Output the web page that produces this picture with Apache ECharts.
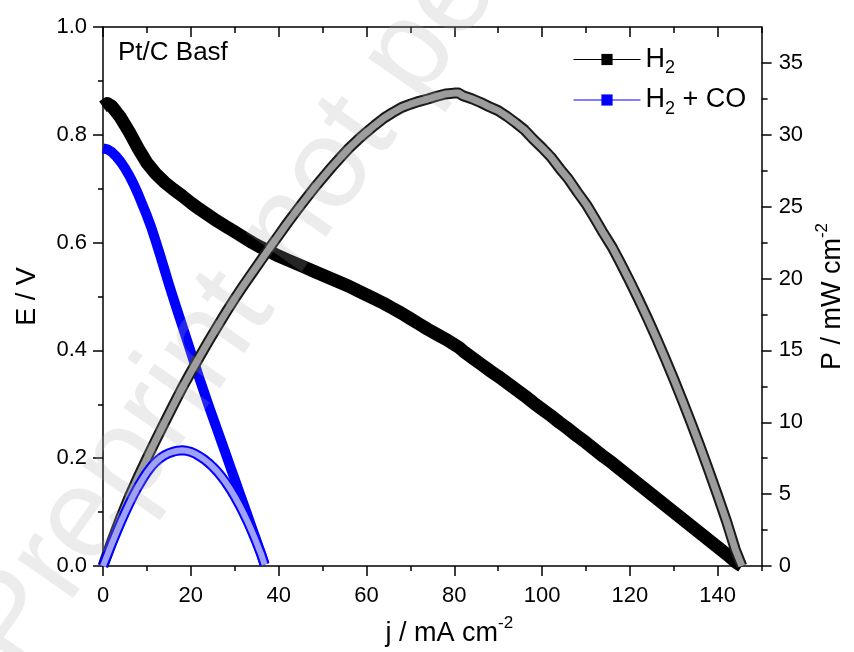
<!DOCTYPE html>
<html><head><meta charset="utf-8">
<script src="https://cdn.jsdelivr.net/npm/echarts@6/dist/echarts.min.js"></script>
<style>html,body{margin:0;padding:0;background:#fff}#c{width:854px;height:652px}</style>
</head><body><div id="c"></div><script>
const FONT = 'Liberation Sans, Arial, sans-serif';
const xMajorTicks = [0, 20, 40, 60, 80, 100, 120, 140];
const xMinorTicks = [10, 30, 50, 70, 90, 110, 130, 150];
const yRightMajor = [0, 5, 10, 15, 20, 25, 30, 35];
const yRightMinor = [2.5, 7.5, 12.5, 17.5, 22.5, 27.5, 32.5];

const j_H2 = [0,1,2,4,6,8,10,12,14,16,18,20,22,24,26,28,30,32,34,36,38,40,42,44,46,48,50,52,54,56,58,60,62,64,66,68,70,72,74,76,78,80,81,82,84,86,88,90,92,94,96,98,100,102,104,106,108,110,112,114,116,118,120,122,124,126,128,130,132,134,136,138,140,142,144,145.5];
const E_H2 = [0.852,0.858,0.853,0.832,0.805,0.775,0.748,0.728,0.712,0.699,0.687,0.674,0.662,0.651,0.640,0.630,0.620,0.610,0.600,0.591,0.583,0.575,0.568,0.561,0.554,0.547,0.540,0.533,0.526,0.519,0.511,0.503,0.495,0.487,0.478,0.469,0.459,0.449,0.439,0.430,0.421,0.411,0.406,0.399,0.387,0.375,0.363,0.352,0.340,0.328,0.316,0.303,0.291,0.279,0.266,0.254,0.241,0.229,0.216,0.203,0.191,0.178,0.165,0.152,0.139,0.126,0.113,0.100,0.087,0.074,0.061,0.048,0.035,0.022,0.008,0.0];
const P_H2 = [0,0.86,1.71,3.33,4.83,6.2,7.48,8.74,9.97,11.18,12.37,13.48,14.56,15.62,16.64,17.64,18.6,19.52,20.4,21.28,22.15,23.0,23.86,24.68,25.48,26.26,27.0,27.72,28.4,29.06,29.64,30.18,30.69,31.17,31.55,31.9,32.13,32.33,32.49,32.68,32.84,32.9,32.9,32.72,32.51,32.25,31.95,31.68,31.28,30.83,30.34,29.69,29.1,28.46,27.66,26.92,26.03,25.19,24.19,23.14,22.16,21.0,19.8,18.54,17.24,15.88,14.46,13.0,11.48,9.92,8.3,6.62,4.9,3.12,1.15,0.0];

const j_CO = [0,1,2,3,4,5,6,7,8,9,10,11,12,13,14,15,16,17,18,19,20,21,22,23,24,25,26,27,28,29,30,31,32,33,34,35,36,36.8];
const E_CO = [0.775,0.773,0.768,0.76,0.75,0.738,0.724,0.708,0.69,0.67,0.65,0.628,0.603,0.577,0.55,0.523,0.497,0.472,0.447,0.422,0.397,0.372,0.347,0.323,0.299,0.276,0.253,0.23,0.207,0.184,0.161,0.138,0.115,0.092,0.069,0.046,0.023,0.003];
const P_CO = [0,0.77,1.54,2.28,3.0,3.69,4.34,4.96,5.52,6.03,6.5,6.91,7.24,7.5,7.7,7.85,7.95,8.02,8.05,8.02,7.94,7.81,7.63,7.43,7.18,6.9,6.58,6.21,5.8,5.34,4.83,4.28,3.68,3.04,2.35,1.61,0.83,0.1];

const zip = (a, b) => a.map((v, i) => [v, b[i]]);
const AX = { color: '#000', width: 1.5 };

const chart = echarts.init(document.getElementById('c'), null, { renderer: 'canvas' });
const nameRich = {
  n: { fontSize: 27, fontFamily: FONT, color: '#000', lineHeight: 32, verticalAlign: 'bottom' },
  s: { fontSize: 17, fontFamily: FONT, color: '#000', lineHeight: 17, verticalAlign: 'top' }
};
chart.setOption({
  animation: false,
  backgroundColor: '#fff',
  textStyle: { fontFamily: FONT },
  title: { text: 'Pt/C Basf', left: 118, top: 40, padding: 0,
    textStyle: { fontSize: 26, fontWeight: 'normal', color: '#000', fontFamily: FONT } },
  legend: {
    orient: 'vertical', left: 573, top: 46, padding: 0, itemWidth: 67, itemHeight: 14, itemGap: 9,
    data: ['H2', 'H2 + CO'],
    formatter: n => n === 'H2' ? '{a|H}{b|2}' : '{a|H}{b|2}{a| + CO}',
    lineStyle: { width: 1 },
    textStyle: { rich: {
      a: { fontSize: 27, fontFamily: FONT, color: '#000', lineHeight: 36, verticalAlign: 'middle' },
      b: { fontSize: 18, fontFamily: FONT, color: '#000', lineHeight: 16, verticalAlign: 'bottom' }
    } }
  },
  grid: { left: 103, right: 82, top: 27, bottom: 86, containLabel: false },
  xAxis: [
    { type: 'value', position: 'bottom', min: 0, max: 150,
      axisLine: { show: true, onZero: false, lineStyle: AX },
      axisTick: { show: true, inside: false, length: 10, customValues: xMajorTicks, lineStyle: AX },
      axisLabel: { customValues: xMajorTicks, fontSize: 22, color: '#000', fontFamily: FONT, margin: 19 },
      splitLine: { show: false },
      name: '{n|j / mA cm}{s|-2}', nameLocation: 'middle', nameGap: 49,
      nameTextStyle: { rich: nameRich, padding: [0, 0, 0, 34] } },
    { type: 'value', position: 'bottom', min: 0, max: 150,
      axisLine: { show: false, onZero: false },
      axisTick: { show: true, inside: false, length: 5, customValues: xMinorTicks, lineStyle: AX },
      axisLabel: { show: false }, splitLine: { show: false } },
    { type: 'value', position: 'top', min: 0, max: 150,
      axisLine: { show: true, onZero: false, lineStyle: AX },
      axisTick: { show: true, inside: true, length: 10, customValues: xMajorTicks, lineStyle: AX },
      axisLabel: { show: false }, splitLine: { show: false } },
    { type: 'value', position: 'top', min: 0, max: 150,
      axisLine: { show: false, onZero: false },
      axisTick: { show: true, inside: true, length: 6, customValues: xMinorTicks, lineStyle: AX },
      axisLabel: { show: false }, splitLine: { show: false } }
  ],
  yAxis: [
    { type: 'value', position: 'left', min: 0, max: 1, interval: 0.2,
      axisLine: { show: true, onZero: false, lineStyle: AX },
      axisTick: { show: true, inside: false, length: 10, lineStyle: AX },
      minorTick: { show: true, splitNumber: 2, length: 5, lineStyle: AX },
      axisLabel: { formatter: v => v.toFixed(1), fontSize: 22, color: '#000', fontFamily: FONT, margin: 16 },
      splitLine: { show: false }, minorSplitLine: { show: false },
      name: 'E / V', nameLocation: 'middle', nameGap: 62,
      nameTextStyle: { fontSize: 27, color: '#000', fontFamily: FONT } },
    { type: 'value', position: 'right', min: 0, max: 37.5,
      axisLine: { show: true, onZero: false, lineStyle: AX },
      axisTick: { show: true, inside: false, length: 10, customValues: yRightMajor, lineStyle: AX },
      axisLabel: { customValues: yRightMajor, fontSize: 22, color: '#000', fontFamily: FONT, margin: 17 },
      splitLine: { show: false },
      name: '{n|P / mW cm}{s|-2}', nameLocation: 'middle', nameGap: 42,
      nameTextStyle: { rich: nameRich } },
    { type: 'value', position: 'right', min: 0, max: 37.5,
      axisLine: { show: false, onZero: false },
      axisTick: { show: true, inside: false, length: 6, customValues: yRightMinor, lineStyle: AX },
      axisLabel: { show: false }, splitLine: { show: false } }
  ],
  graphic: [{
    type: 'text', x: -10, y: 655, rotation: 55 * Math.PI / 180, z: 100, silent: true,
    style: { text: 'Preprint not peer reviewed', font: '128px "Liberation Sans"',
      fill: 'rgba(170,170,170,0.22)', textAlign: 'left', textVerticalAlign: 'middle' }
  }],
  series: [
    { name: 'H2', type: 'line', xAxisIndex: 0, yAxisIndex: 0, data: zip(j_H2, E_H2),
      symbol: 'rect', symbolSize: 11, showSymbol: false, silent: true, z: 2,
      lineStyle: { color: '#000', width: 13, join: 'round' }, itemStyle: { color: '#000' } },
    { name: 'H2 + CO', type: 'line', xAxisIndex: 0, yAxisIndex: 0, data: zip(j_CO, E_CO),
      symbol: 'rect', symbolSize: 11, showSymbol: false, silent: true, z: 2,
      lineStyle: { color: '#0000ff', width: 10, join: 'round' }, itemStyle: { color: '#0000ff' } },
    { name: 'P H2 edge', type: 'line', xAxisIndex: 0, yAxisIndex: 1, data: zip(j_H2, P_H2),
      symbol: 'none', silent: true, z: 3,
      lineStyle: { color: '#1a1a1a', width: 11, join: 'round' } },
    { name: 'P H2 fill', type: 'line', xAxisIndex: 0, yAxisIndex: 1, data: zip(j_H2, P_H2),
      symbol: 'none', silent: true, z: 4,
      lineStyle: { color: '#9c9c9c', width: 7, join: 'round' } },
    { name: 'P CO edge', type: 'line', xAxisIndex: 0, yAxisIndex: 1, data: zip(j_CO, P_CO),
      symbol: 'none', silent: true, z: 5,
      lineStyle: { color: '#0000ff', width: 10, join: 'round' } },
    { name: 'P CO fill', type: 'line', xAxisIndex: 0, yAxisIndex: 1, data: zip(j_CO, P_CO),
      symbol: 'none', silent: true, z: 6,
      lineStyle: { color: '#a0a0ff', width: 6, join: 'round' } }
  ]
});
</script></body></html>
